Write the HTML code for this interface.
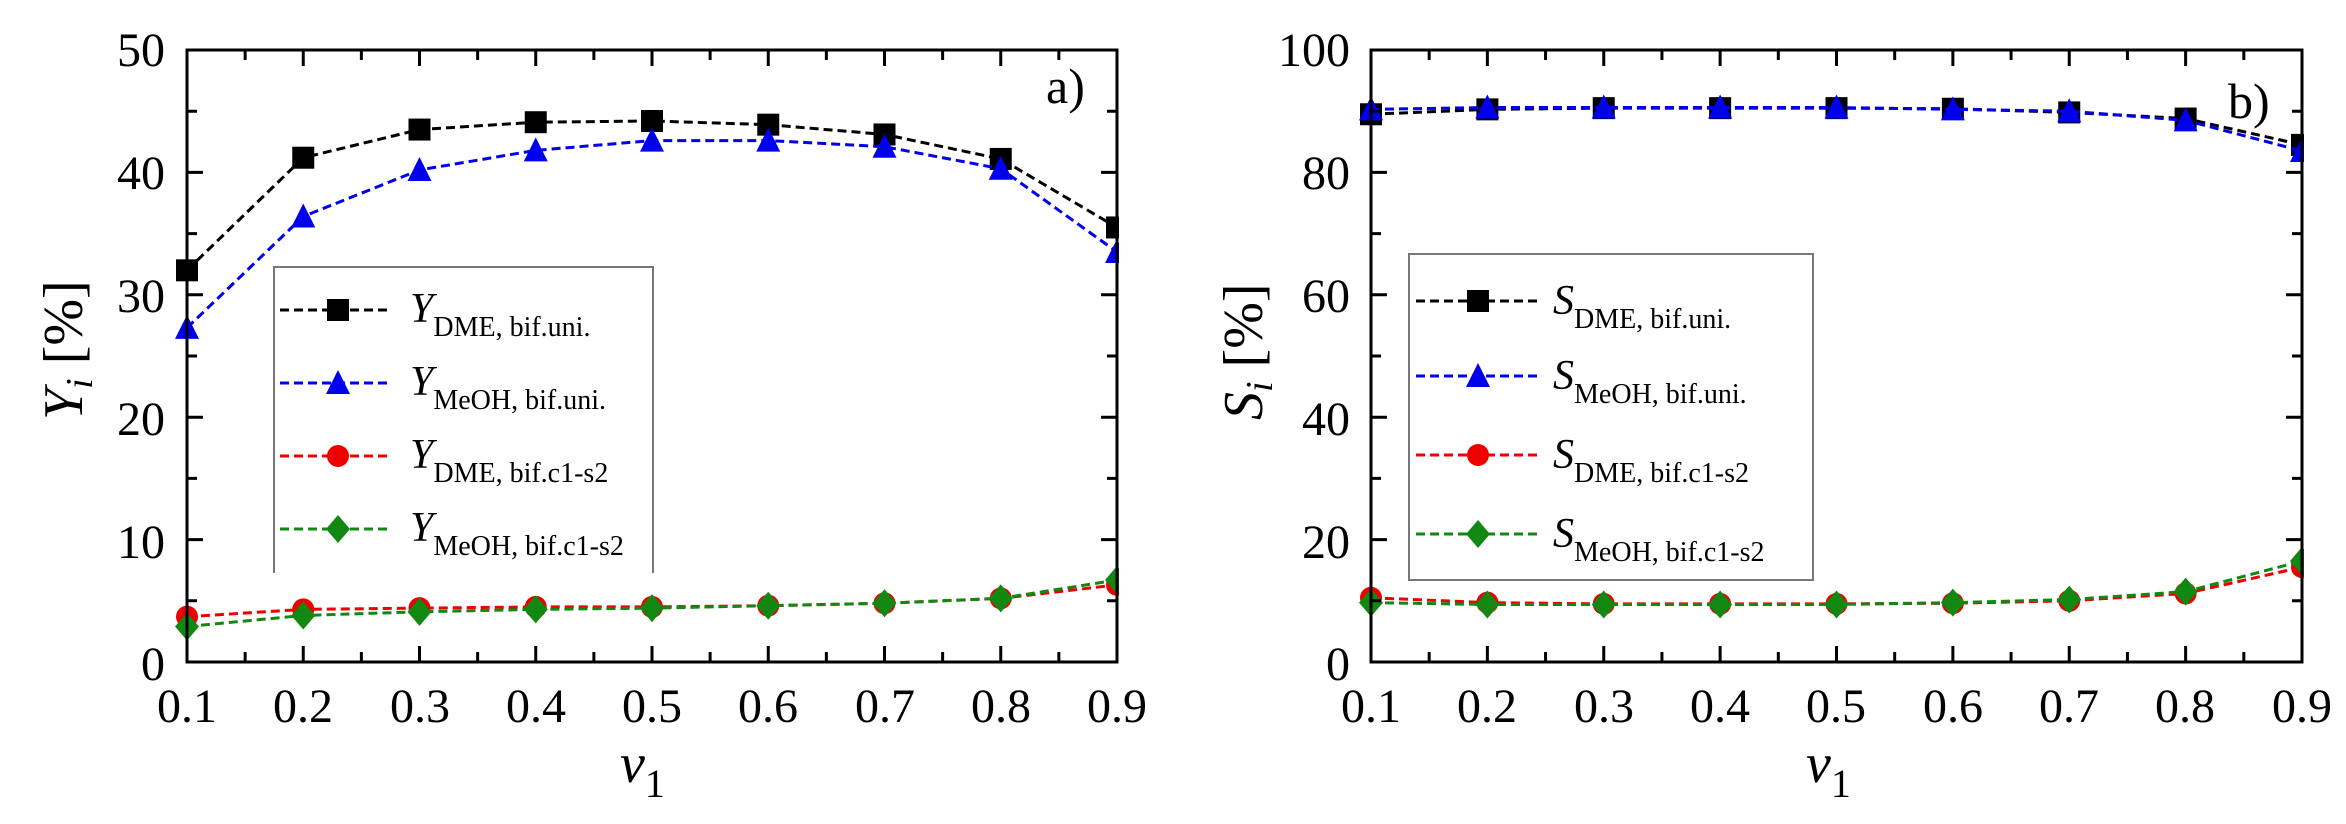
<!DOCTYPE html>
<html><head><meta charset="utf-8"><style>
html,body{margin:0;padding:0;background:#fff;}
svg, svg text{font-family:"Liberation Serif","DejaVu Serif",serif;}
</style></head><body>
<svg id="s" width="2346" height="819" viewBox="0 0 2346 819" xmlns="http://www.w3.org/2000/svg" font-family="Liberation Serif, serif">
<g id="plots"></g>
<g font-size="48" text-anchor="end" font-family="Liberation Serif, serif">
<text x="165" y="66">50</text><text x="165" y="189">40</text><text x="165" y="312">30</text>
<text x="165" y="435">20</text><text x="165" y="558">10</text><text x="165" y="680">0</text>
</g>
<g font-size="48" text-anchor="middle" font-family="Liberation Serif, serif">
<text x="187" y="722">0.1</text><text x="303" y="722">0.2</text><text x="420" y="722">0.3</text>
<text x="536" y="722">0.4</text><text x="652" y="722">0.5</text><text x="768" y="722">0.6</text>
<text x="885" y="722">0.7</text><text x="1001" y="722">0.8</text><text x="1117" y="722">0.9</text>
</g>
<text x="620" y="782" font-size="56" font-style="italic" font-family="Liberation Serif, serif">v<tspan font-size="40" font-style="normal" dy="15">1</tspan></text>
<text transform="translate(82,420) rotate(-90)" font-size="56" font-family="Liberation Serif, serif"><tspan font-style="italic">Y</tspan><tspan font-size="38" font-style="italic" dy="10">i</tspan><tspan dy="-10"> [%]</tspan></text>
<text x="1046" y="103" font-size="50" font-family="Liberation Serif, serif">a)</text>
<g font-size="48" text-anchor="end" font-family="Liberation Serif, serif">
<text x="1350" y="66">100</text><text x="1350" y="189">80</text><text x="1350" y="312">60</text>
<text x="1350" y="435">40</text><text x="1350" y="558">20</text><text x="1350" y="680">0</text>
</g>
<g font-size="48" text-anchor="middle" font-family="Liberation Serif, serif">
<text x="1371" y="722">0.1</text><text x="1487" y="722">0.2</text><text x="1604" y="722">0.3</text>
<text x="1720" y="722">0.4</text><text x="1836" y="722">0.5</text><text x="1953" y="722">0.6</text>
<text x="2069" y="722">0.7</text><text x="2185" y="722">0.8</text><text x="2302" y="722">0.9</text>
</g>
<text x="1806" y="782" font-size="56" font-style="italic" font-family="Liberation Serif, serif">v<tspan font-size="40" font-style="normal" dy="15">1</tspan></text>
<text transform="translate(1262,420) rotate(-90)" font-size="56" font-family="Liberation Serif, serif"><tspan font-style="italic">S</tspan><tspan font-size="38" font-style="italic" dy="10">i</tspan><tspan dy="-10"> [%]</tspan></text>
<text x="2228" y="118" font-size="50" font-family="Liberation Serif, serif">b)</text>
<g fill="none" stroke="#777" stroke-width="2"><path d="M274,573 V267 H653 V573"/></g>
<g font-size="42" font-style="italic" font-family="Liberation Serif, serif">
<text x="410" y="322">Y<tspan font-size="28" font-style="normal" dy="14">DME, bif.uni.</tspan></text>
<text x="410" y="395">Y<tspan font-size="28" font-style="normal" dy="14">MeOH, bif.uni.</tspan></text>
<text x="410" y="468">Y<tspan font-size="28" font-style="normal" dy="14">DME, bif.c1-s2</tspan></text>
<text x="410" y="541">Y<tspan font-size="28" font-style="normal" dy="14">MeOH, bif.c1-s2</tspan></text>
</g>
<rect x="1409" y="254" width="404" height="326" fill="none" stroke="#777" stroke-width="2"/>
<g font-size="42" font-style="italic" font-family="Liberation Serif, serif">
<text x="1553" y="314">S<tspan font-size="28" font-style="normal" dy="14">DME, bif.uni.</tspan></text>
<text x="1553" y="389">S<tspan font-size="28" font-style="normal" dy="14">MeOH, bif.uni.</tspan></text>
<text x="1553" y="468">S<tspan font-size="28" font-style="normal" dy="14">DME, bif.c1-s2</tspan></text>
<text x="1553" y="547">S<tspan font-size="28" font-style="normal" dy="14">MeOH, bif.c1-s2</tspan></text>
</g>
</svg>
<script>
(function(){
var NS="http://www.w3.org/2000/svg",g=document.getElementById("plots");
function el(t,a){var e=document.createElementNS(NS,t);for(var k in a)e.setAttribute(k,a[k]);g.appendChild(e);return e;}
var cols=["#000","#0000ee","#ee0000","#118811"];
function marker(type,x,y,c,s){
 s=s||11;
 if(type==0) el("rect",{x:x-s,y:y-s,width:2*s,height:2*s,fill:c});
 else if(type==1) el("polygon",{points:(x)+","+(y-s-2)+" "+(x+s+1)+","+(y+s)+" "+(x-s-1)+","+(y+s),fill:c});
 else if(type==2) el("circle",{cx:x,cy:y,r:s,fill:c});
 else el("polygon",{points:x+","+(y-s-3)+" "+(x+s+1)+","+y+" "+x+","+(y+s+3)+" "+(x-s-1)+","+y,fill:c});
}
function plot(x0,x1,yT,yB,ymax,major,minor,data){
 var sx=(x1-x0)/8, sy=(yB-yT)/ymax;
 data.forEach(function(d,si){
  var pts=d.map(function(v,i){return [x0+i*sx,yB-v*sy];});
  el("polyline",{points:pts.map(function(p){return p.join(",")}).join(" "),fill:"none",stroke:cols[si],"stroke-width":3,"stroke-dasharray":"9,5"});
  pts.forEach(function(p){marker(si,p[0],p[1],cols[si]);});
 });
 el("rect",{x:x1+2,y:0,width:60,height:700,fill:"#fff"});
 el("rect",{x:x0,y:yT,width:x1-x0,height:yB-yT,fill:"none",stroke:"#000","stroke-width":3});
 var d="";
 for(var i=0;i<=16;i++){var x=x0+i*sx/2,L=(i%2==0)?16:10;d+="M"+x+","+yB+"v-"+L+"M"+x+","+yT+"v"+L;}
 for(var v=0;v<=ymax;v+=minor){var y=yB-v*sy,L=(Math.abs(v/major-Math.round(v/major))<1e-6)?16:10;d+="M"+x0+","+y+"h"+L+"M"+x1+","+y+"h-"+L;}
 el("path",{d:d,stroke:"#000","stroke-width":3,fill:"none"});
}
plot(187,1117,50,662,50,10,5,[
 [32,41.2,43.5,44.1,44.2,43.9,43.1,41.1,35.5],
 [27.3,36.4,40.2,41.8,42.6,42.6,42.1,40.3,33.5],
 [3.7,4.3,4.4,4.5,4.5,4.6,4.8,5.2,6.3],
 [2.9,3.8,4.1,4.3,4.4,4.6,4.8,5.2,6.7]]);
plot(1371,2302,50,662,100,20,10,[
 [89.5,90.3,90.5,90.5,90.5,90.4,89.8,88.8,84.5],
 [90.3,90.6,90.6,90.6,90.6,90.3,90,88.5,83.5],
 [10.5,9.7,9.5,9.5,9.5,9.6,10,11.2,15.5],
 [9.7,9.4,9.4,9.4,9.4,9.7,10.2,11.5,16.5]]);
function leg(x0,x1,xm,ys){ys.forEach(function(y,i){
 el("line",{x1:x0,y1:y,x2:x1,y2:y,stroke:cols[i],"stroke-width":3,"stroke-dasharray":"9,5"});
 marker(i,xm,y,cols[i]);});}
leg(280,392,338,[310,383,456,529]);
leg(1416,1540,1478,[301,376,455,534]);
})();
</script>
</body></html>
